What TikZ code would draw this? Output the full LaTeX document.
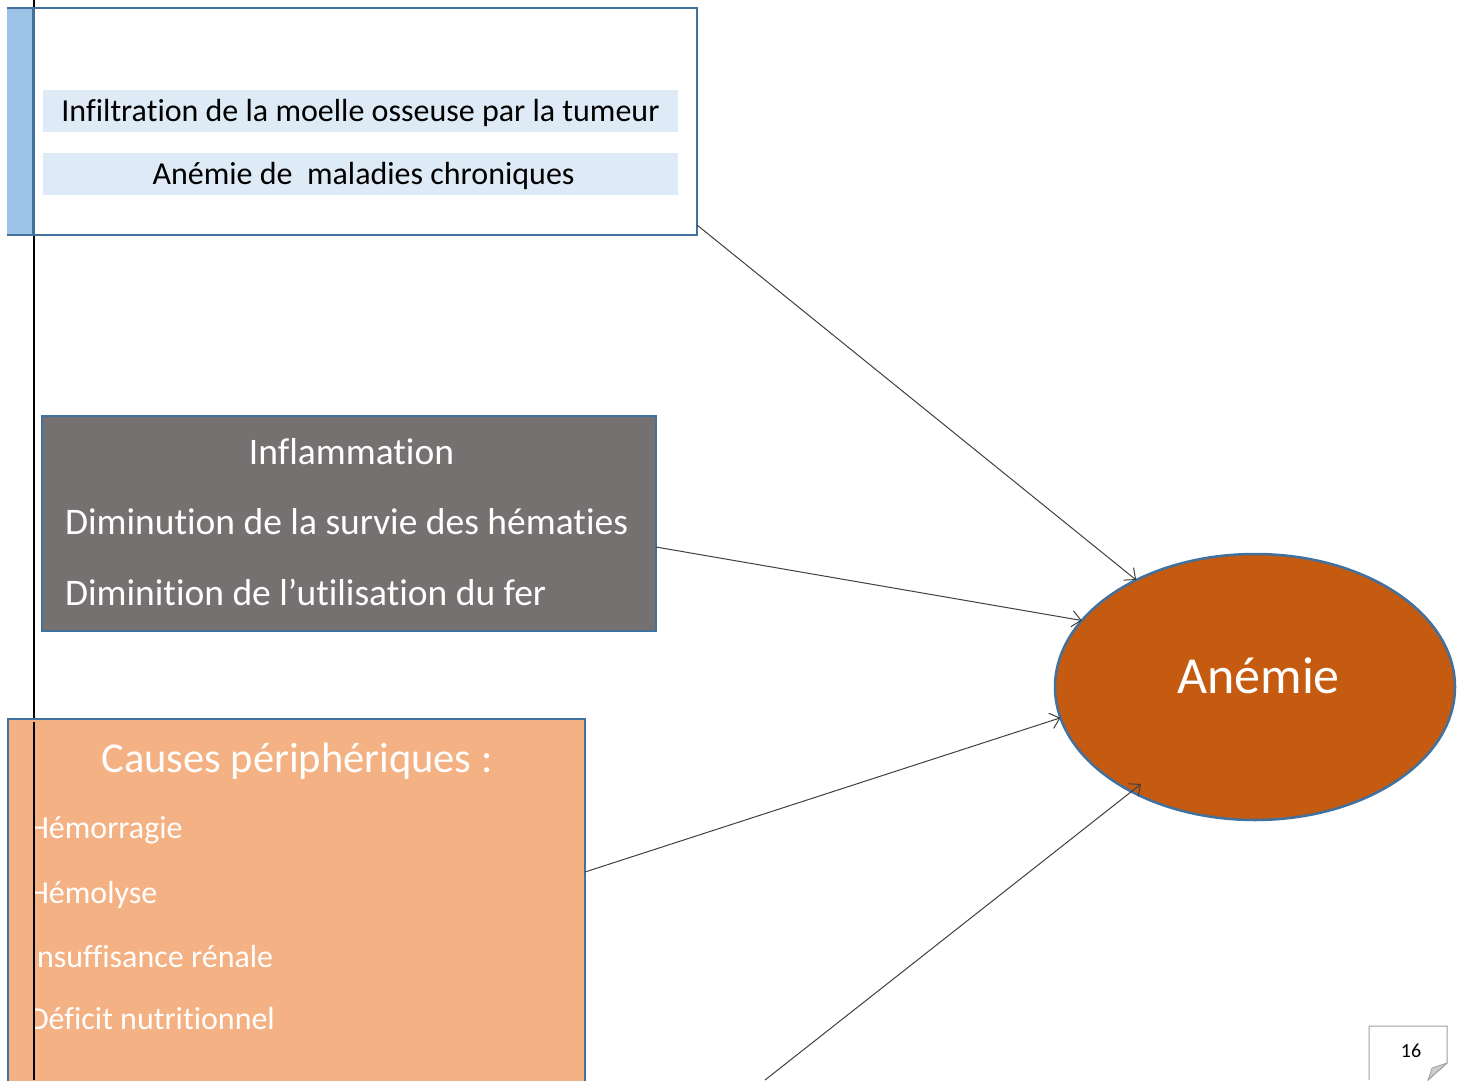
\documentclass[tikz,border=0pt]{standalone}
\usepackage{fontspec}
\setmainfont[Ligatures={NoCommon}]{Carlito}
\usetikzlibrary{shapes.geometric,arrows.meta,calc}
\definecolor{bord}{HTML}{41719C}
\definecolor{stripblue}{HTML}{9DC3E6}
\definecolor{barblue}{HTML}{DEEBF7}
\definecolor{boxgray}{HTML}{767171}
\definecolor{boxorange}{HTML}{F4B183}
\definecolor{ellorange}{HTML}{C55A11}
\definecolor{arrowgray}{HTML}{404040}
\definecolor{pagegray}{HTML}{A0A0A0}
\begin{document}
\begin{tikzpicture}[x=1pt,y=-1pt,
  every node/.style={inner sep=0pt,outer sep=0pt},
  framebox/.style={draw=bord,line width=2.5pt,anchor=north west},
  bar/.style={fill=barblue,minimum width=635pt,text height=31pt,text depth=11pt,
    font=\fontsize{32}{38}\selectfont},
  graytext/.style={text=white,anchor=base,font=\fontsize{37.5}{44}\selectfont},
  orangetext/.style={text=white,anchor=base west,font=\fontsize{32}{38}\selectfont},
  conn/.style={draw=arrowgray,line width=1pt,-{Straight Barb[length=9pt,width=16pt]}}]
\useasboundingbox (0,0) rectangle (1465,1080);
\fill[white] (0,0) rectangle (1465,1080);

% vertical line
\draw[black,line width=2pt] (34,0) -- (34,1080);

% top box
\node[framebox,fill=white,minimum width=689pt,minimum height=227pt] (top) at (8,8) {};
\fill[stripblue] (6.5,9.25) rectangle (33,233.75);
\draw[bord,line width=2.5pt] (33.5,8) -- (33.5,235);
\node[bar] (b1) at (360.5,111) {Infiltration de la moelle osseuse par la tumeur};
\node[bar] (b2) at (360.5,174) {\hspace*{6pt}Anémie de~ maladies chroniques};

% gray box
\node[framebox,fill=boxgray,minimum width=614pt,minimum height=215pt] (mid) at (42,416) {};
\node[graytext] (g1) at (351.5,464) {Inflammation};
\node[graytext,anchor=base west] (g2) at (65,534) {Diminution de la survie des hématies};
\node[graytext,anchor=base west] (g3) at (65,605) {Diminition de l’utilisation du fer};

% orange box
\node[framebox,fill=boxorange,minimum width=577pt,minimum height=380pt] (per) at (8,719) {};
\node[text=white,anchor=base,font=\fontsize{42.5}{50}\selectfont] (ptitle) at (297,772) {Causes périphériques :};
\begin{scope}
  \clip (34,722) rectangle (584,1080);
  \node[orangetext] (p1) at (29,838) {Hémorragie};
  \node[orangetext] (p2) at (29,903) {Hémolyse};
  \node[orangetext] (p3) at (29,967) {Insuffisance rénale};
  \node[orangetext] (p4) at (29,1029) {Déficit nutritionnel};
\end{scope}
\draw[black,line width=2pt] (34,722) -- (34,1080);

% ellipse
\node[ellipse,draw=bord,line width=2.5pt,fill=ellorange,minimum width=400pt,minimum height=266pt] (anemie) at (1255,687) {};
\node[text=white,anchor=base,font=\fontsize{52}{60}\selectfont] (lbl) at (1258.5,693) {Anémie};

% connectors
\coordinate (c4) at (765,1080);
\draw[conn] ($(top.south east)+(0,-10)$) -- (anemie.138);
\draw[conn] ($(mid.east)+(0,23.5)$) -- (anemie.159.4);
\draw[conn] ($(per.east)+(0,-37)$) -- (anemie.189.4);
\draw[conn] (c4) -- ($(anemie.center)+(-114,97)$);

% page number
\draw[pagegray,line width=1pt] (1369,1080) -- (1369,1026) -- (1447,1026) -- (1447,1063) -- (1428,1080);
\filldraw[fill=gray!40,draw=pagegray,line width=0.8pt] (1447,1063) -- (1432,1068) -- (1428,1080) -- cycle;
\node[anchor=base,font=\fontsize{20}{24}\selectfont] (pg) at (1411,1057) {16};
\end{tikzpicture}
\end{document}
